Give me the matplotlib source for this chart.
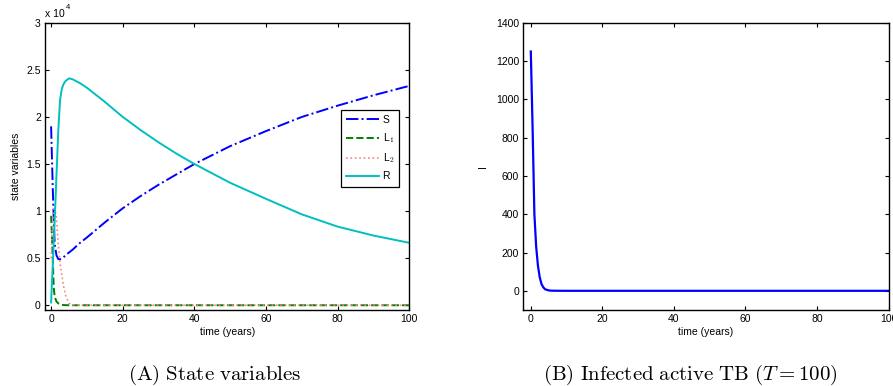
import numpy as np
import matplotlib
matplotlib.use("Agg")
import matplotlib.pyplot as plt
from matplotlib.ticker import FuncFormatter

# ==========================================
# 1. DATA
# ==========================================
t = [0, 0.25, 0.5, 0.75, 1, 1.5, 2, 2.5, 3, 3.5, 4, 5, 6, 8, 10,
     15, 20, 25, 30, 35, 40, 50, 60, 70, 80, 90, 100]

# state variables, in units of 1e4
S = [1.90, 1.55, 1.20, 0.90, 0.65, 0.53, 0.49, 0.49, 0.50, 0.51, 0.53, 0.56, 0.59, 0.66, 0.72,
     0.88, 1.03, 1.16, 1.28, 1.39, 1.50, 1.69, 1.85, 2.00, 2.12, 2.23, 2.33]
L1 = [0.95, 0.71, 0.45, 0.18, 0.09, 0.04, 0.02, 0.01, 0.005, 0.002, 0.001, 0, 0, 0, 0,
      0, 0, 0, 0, 0, 0, 0, 0, 0, 0, 0, 0]
L2 = [0.50, 0.75, 0.92, 1.02, 1.05, 0.92, 0.65, 0.45, 0.32, 0.20, 0.11, 0.02, 0.005, 0, 0,
      0, 0, 0, 0, 0, 0, 0, 0, 0, 0, 0, 0]
R = [0.03, 0.25, 0.45, 0.68, 0.90, 1.38, 1.85, 2.18, 2.30, 2.35, 2.38, 2.41, 2.40, 2.36, 2.31,
     2.16, 2.00, 1.86, 1.73, 1.61, 1.50, 1.30, 1.13, 0.965, 0.835, 0.740, 0.663]

t_I = [0, 0.5, 1, 1.5, 2, 2.5, 3, 3.5, 4, 5, 6, 8, 10, 20, 40, 60, 80, 100]
I = [1250, 850, 400, 230, 130, 70, 35, 18, 8, 2, 0.5, 0.2, 0, 0, 0, 0, 0, 0]

x_ticks = [0, 20, 40, 60, 80, 100]
y_ticks_state = [0, 0.5, 1, 1.5, 2, 2.5, 3]
y_ticks_I = [0, 200, 400, 600, 800, 1000, 1200, 1400]

SCALE = 1e4

# ==========================================
# 2. STYLE
# ==========================================
plt.rcParams['font.family'] = ['Liberation Sans', 'DejaVu Sans']
plt.rcParams['mathtext.fontset'] = 'cm'
plt.rcParams['font.size'] = 7.5

fig = plt.figure(figsize=(8.93, 3.86), dpi=100)
ax1 = fig.add_axes([0.0504, 0.197, 0.408, 0.744])
ax2 = fig.add_axes([0.586, 0.197, 0.409, 0.744])


def matlab_box(ax):
    ax.tick_params(direction='in', length=3, width=0.8, top=True, right=True,
                   labelsize=7.5, pad=3)
    for sp in ax.spines.values():
        sp.set_linewidth(1.0)


# ==========================================
# 3. LEFT: STATE VARIABLES
# ==========================================
ts = np.array(t)
ax1.plot(ts, np.array(S) * SCALE, color='#0000ff', linestyle='-.', linewidth=1.4, label='S')
ax1.plot(ts, np.array(L1) * SCALE, color='#008000', linestyle='--', linewidth=1.4, label='L$_1$')
ax1.plot(ts, np.array(L2) * SCALE, color='#ff8080', linestyle=':', linewidth=1.2, label='L$_2$')
ax1.plot(ts, np.array(R) * SCALE, color='#00bfbf', linestyle='-', linewidth=1.4, label='R')

ax1.set_xlim(-1.7, 100)
ax1.set_ylim(-0.05 * SCALE, 3 * SCALE)
ax1.set_xticks(x_ticks)
ax1.set_yticks([v * SCALE for v in y_ticks_state])
ax1.yaxis.set_major_formatter(FuncFormatter(lambda v, p: f"{v / SCALE:g}"))
# MATLAB-style exponent label
ax1.text(0.0, 1.012, "x 10", transform=ax1.transAxes, fontsize=7.5, ha='left', va='bottom')
ax1.text(0.057, 1.04, "4", transform=ax1.transAxes, fontsize=5.5, ha='left', va='bottom')
ax1.set_xlabel("time (years)", fontsize=7.5, labelpad=2)
ax1.set_ylabel("state variables", fontsize=7.5, labelpad=4)
matlab_box(ax1)

leg = ax1.legend(loc='upper right', bbox_to_anchor=(0.9725, 0.697), fontsize=7.5,
                 handlelength=3.2, fancybox=False, framealpha=1, borderpad=0.5,
                 labelspacing=0.6, handletextpad=0.3, borderaxespad=0)
leg.get_frame().set_edgecolor('black')
leg.get_frame().set_linewidth(0.9)

# ==========================================
# 4. RIGHT: INFECTED ACTIVE TB
# ==========================================
ax2.plot(t_I, I, color='#0000ff', linewidth=1.6)
ax2.set_xlim(-2.1, 100)
ax2.set_ylim(-100, 1400)
ax2.set_xticks(x_ticks)
ax2.set_yticks(y_ticks_I)
ax2.set_xlabel("time (years)", fontsize=7.5, labelpad=2)
ax2.set_ylabel("I", fontsize=7.5, labelpad=6)
matlab_box(ax2)

# ==========================================
# 5. CAPTIONS
# ==========================================
fig.text(0.24, 0.017, r"$\mathrm{(A)\ State\ variables}$", fontsize=15,
         ha='center', va='baseline')
fig.text(0.773, 0.017, r"$\mathrm{(B)\ Infected\ active\ TB\ (}T=100\mathrm{)}$", fontsize=15,
         ha='center', va='baseline')

fig.savefig("out.png", dpi=100)
